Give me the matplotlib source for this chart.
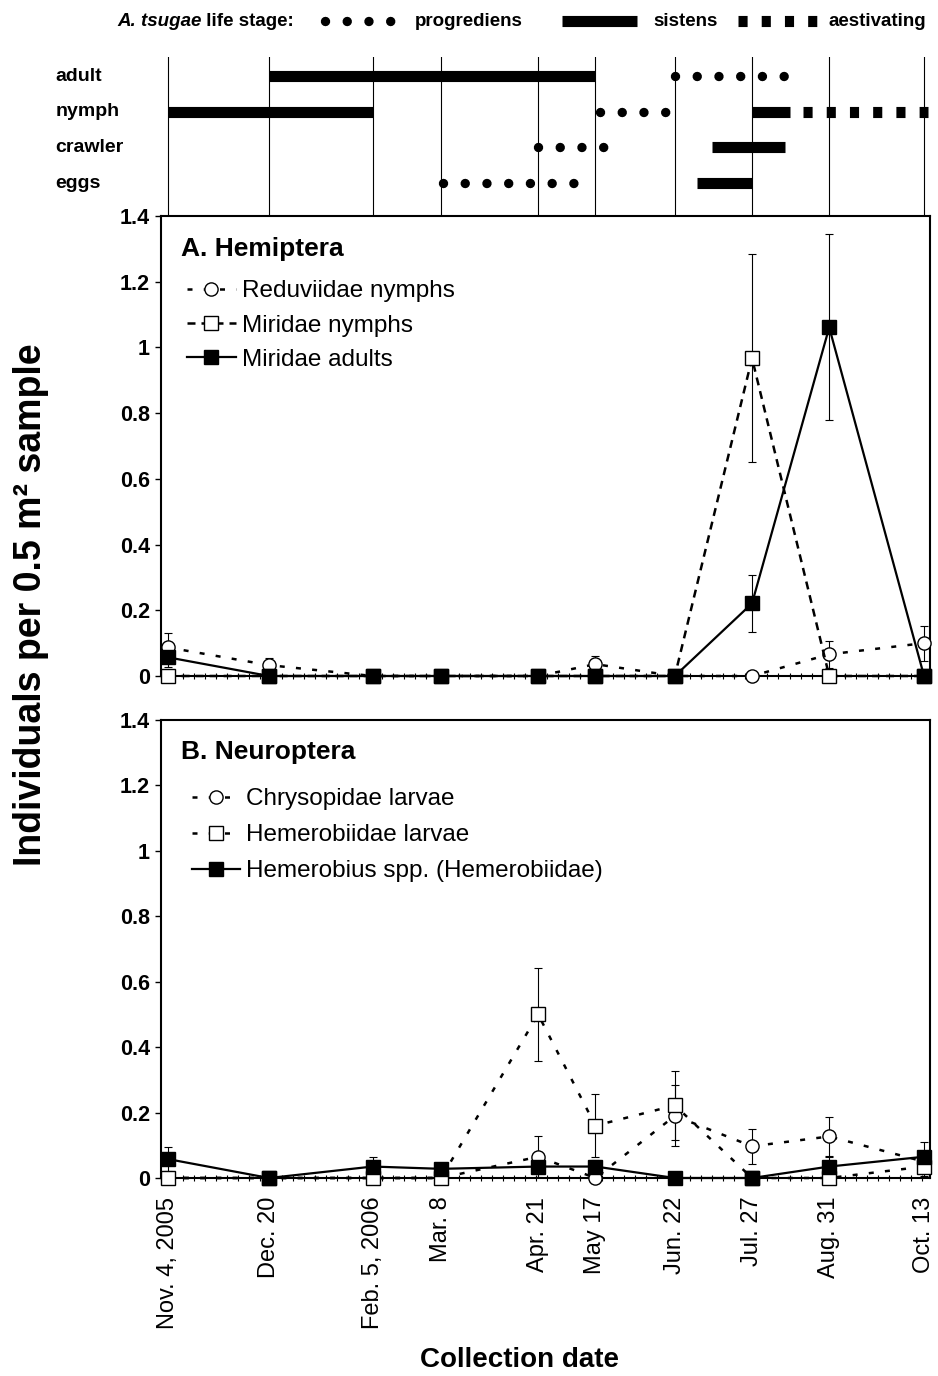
import matplotlib.pyplot as plt
import matplotlib.dates as mdates
from matplotlib.lines import Line2D
from matplotlib.ticker import FuncFormatter
import pandas as pd

plt.rcParams['font.family'] = ['Liberation Sans', 'DejaVu Sans']

# --- collection dates ---
dates = pd.to_datetime(['2005-11-04', '2005-12-20', '2006-02-05', '2006-03-08', '2006-04-21',
                        '2006-05-17', '2006-06-22', '2006-07-27', '2006-08-31', '2006-10-13'])
date_labels = ['Nov. 4, 2005', 'Dec. 20', 'Feb. 5, 2006', 'Mar. 8', 'Apr. 21', 'May 17',
               'Jun. 22', 'Jul. 27', 'Aug. 31', 'Oct. 13']

# --- A. Hemiptera (mean, SE) ---
reduv_nymph = [0.087, 0.033, 0, 0, 0, 0.036, 0, 0, 0.066, 0.100]
reduv_nymph_se = [0.043, 0.023, 0, 0, 0, 0.026, 0, 0, 0.041, 0.053]
mirid_nymph = [0, 0, 0, 0, 0, 0, 0, 0.967, 0, 0]
mirid_nymph_se = [0, 0, 0, 0, 0, 0, 0, 0.317, 0, 0]
mirid_adult = [0.057, 0, 0, 0, 0, 0, 0, 0.221, 1.061, 0]
mirid_adult_se = [0.030, 0, 0, 0, 0, 0, 0, 0.086, 0.283, 0]

# --- B. Neuroptera (mean, SE) ---
chrys_larv = [0, 0, 0, 0, 0.065, 0, 0.190, 0.097, 0.127, 0.050]
chrys_larv_se = [0, 0, 0, 0, 0.062, 0, 0.093, 0.053, 0.060, 0.030]
hemer_larv = [0, 0, 0, 0, 0.500, 0.160, 0.222, 0, 0, 0.035]
hemer_larv_se = [0, 0, 0, 0, 0.142, 0.097, 0.105, 0, 0, 0.030]
hemerobius = [0.058, 0, 0.035, 0.028, 0.035, 0.035, 0, 0, 0.035, 0.065]
hemerobius_se = [0.038, 0, 0.030, 0, 0, 0.020, 0, 0, 0.030, 0.046]

# --- A. tsugae life stages (stage, start, end) ---
stages = ['adult', 'nymph', 'crawler', 'eggs']
stage_y = [3, 2, 1, 0]
sistens = [('adult', '2005-12-20', '2006-05-17'),
           ('nymph', '2005-11-04', '2006-02-05'),
           ('nymph', '2006-07-27', '2006-08-13'),
           ('crawler', '2006-07-09', '2006-08-11'),
           ('eggs', '2006-07-02', '2006-07-27')]
progrediens = [('adult', '2006-06-22', '2006-08-12'),
               ('nymph', '2006-05-19', '2006-06-19'),
               ('crawler', '2006-04-21', '2006-05-22'),
               ('eggs', '2006-03-09', '2006-05-09')]
aestivating = [('nymph', '2006-08-19', '2006-10-15')]

# styles
dot_style = dict(lw=6.8, linestyle=(0, (0.001, 2.3)), dash_capstyle='round', color='k')
bar_style = dict(lw=8, solid_capstyle='butt', color='k')
aest_style = dict(lw=8, linestyle=(0, (0.82, 1.27)), dash_capstyle='butt', color='k')
dotted = (0, (2.0, 4.5))
dashed = (0, (3.2, 2.4))

W, H = 938, 1376
fig = plt.figure(figsize=(W / 100, H / 100), dpi=100)


def box(l, t, r, b):
    return [l / W, 1 - b / H, (r - l) / W, (b - t) / H]


def px(x, y):
    return x / W, 1 - y / H


ax_top = fig.add_axes(box(161, 57, 930, 216))
axA = fig.add_axes(box(161, 216, 930, 676))
axB = fig.add_axes(box(161, 720, 930, 1178))

xmin = dates[0] - pd.Timedelta(days=3)
xmax = dates[-1] + pd.Timedelta(days=2.7)
ydict = dict(zip(stages, stage_y))

# ---------- life stage panel ----------
for d in dates:
    ax_top.axvline(d, color='k', lw=0.8)
for st, s, e in sistens:
    ax_top.plot(pd.to_datetime([s, e]), [ydict[st]] * 2, **bar_style)
for st, s, e in progrediens:
    ax_top.plot(pd.to_datetime([s, e]), [ydict[st]] * 2, **dot_style)
for st, s, e in aestivating:
    ax_top.plot(pd.to_datetime([s, e]), [ydict[st]] * 2, **aest_style)
ax_top.set_xlim(xmin, xmax)
ax_top.set_ylim(-0.925, 3.533)
ax_top.axis('off')
for st, y in zip(stages, stage_y):
    ax_top.text(-0.1375, y, st, transform=ax_top.get_yaxis_transform(),
                ha='left', va='center', fontsize=14, fontweight='bold')

# legend of life stages across the top
legend_y = px(0, 21)[1]
t1 = fig.text(*px(117, 21), 'A. tsugae', fontsize=13.5, fontweight='bold',
              style='italic', va='center', ha='left')
ax_top.annotate(' life stage:', xy=(1, 0), xycoords=t1, va='bottom', ha='left',
                fontsize=13.5, fontweight='bold', annotation_clip=False)
fig.add_artist(Line2D([px(325, 0)[0], px(392.5, 0)[0]], [legend_y] * 2,
                      transform=fig.transFigure, **dot_style))
fig.text(*px(415, 21), 'progrediens', fontsize=13.5, fontweight='bold', va='center')
fig.add_artist(Line2D([px(562, 0)[0], px(637, 0)[0]], [legend_y] * 2,
                      transform=fig.transFigure, **bar_style))
fig.text(*px(653, 21), 'sistens', fontsize=13.5, fontweight='bold', va='center')
fig.add_artist(Line2D([px(738, 0)[0], px(817, 0)[0]], [legend_y] * 2,
                      transform=fig.transFigure, **aest_style))
fig.text(*px(828, 21), 'aestivating', fontsize=13.5, fontweight='bold', va='center')


# ---------- data panels ----------
def series(ax, y, se, marker, face, ls, label):
    ax.errorbar(dates, y, yerr=se, fmt='none', ecolor='k', elinewidth=0.8,
                capsize=3.2, capthick=0.8, zorder=2, clip_on=False)
    line, = ax.plot(dates, y, color='k', lw=1.8 if ls != '-' else 1.6, linestyle=ls,
                    marker=marker, ms=9.5, mfc=face, mec='k', mew=1.0,
                    zorder=3, clip_on=False, label=label)
    return line


def style_axes(ax):
    ax.set_xlim(xmin, xmax)
    ax.set_ylim(0, 1.4)
    ax.set_yticks([0, 0.2, 0.4, 0.6, 0.8, 1.0, 1.2, 1.4])
    ax.yaxis.set_major_formatter(FuncFormatter(lambda v, p: f'{v:g}'))
    ax.set_xticks(dates.to_pydatetime())
    ax.xaxis.set_minor_locator(mdates.DayLocator(interval=5))
    for s in ax.spines.values():
        s.set_linewidth(1.5)
    ax.tick_params(axis='y', direction='out', length=4, width=1, labelsize=15.5, pad=4)
    ax.tick_params(axis='x', which='major', length=0, pad=13.5)
    ax.tick_params(axis='x', which='minor', direction='inout', length=4, width=0.8)
    for lab in ax.get_yticklabels():
        lab.set_fontweight('bold')


hA = [series(axA, reduv_nymph, reduv_nymph_se, 'o', 'white', dotted, 'Reduviidae nymphs'),
      series(axA, mirid_nymph, mirid_nymph_se, 's', 'white', dashed, 'Miridae nymphs'),
      series(axA, mirid_adult, mirid_adult_se, 's', 'black', '-', 'Miridae adults')]
style_axes(axA)
axA.tick_params(axis='x', labelbottom=False)
axA.text(0.026, 0.928, 'A. Hemiptera', transform=axA.transAxes, fontsize=19,
         fontweight='bold', va='center', ha='left')
axA.legend(handles=hA, loc='upper left', bbox_to_anchor=(0.034, 0.86), frameon=False,
           fontsize=17.5, handlelength=2.0, handletextpad=0.25, labelspacing=0.5,
           borderaxespad=0, borderpad=0)

hB = [series(axB, chrys_larv, chrys_larv_se, 'o', 'white', dotted, 'Chrysopidae larvae'),
      series(axB, hemer_larv, hemer_larv_se, 's', 'white', dotted, 'Hemerobiidae larvae'),
      series(axB, hemerobius, hemerobius_se, 's', 'black', '-', 'Hemerobius spp. (Hemerobiidae)')]
style_axes(axB)
axB.set_xticklabels(date_labels, rotation=90, fontsize=17)
axB.text(0.026, 0.930, 'B. Neuroptera', transform=axB.transAxes, fontsize=19,
         fontweight='bold', va='center', ha='left')
axB.legend(handles=hB, loc='upper left', bbox_to_anchor=(0.040, 0.851), frameon=False,
           fontsize=17.5, handlelength=2.0, handletextpad=0.25, labelspacing=0.58,
           borderaxespad=0, borderpad=0)

fig.text(*px(31, 605), 'Individuals per 0.5 m² sample', rotation=90, ha='center',
         va='center', fontsize=27, fontweight='bold')
fig.text(*px(520, 1360), 'Collection date', ha='center', va='center',
         fontsize=20, fontweight='bold')

fig.savefig('out.png', dpi=100)
